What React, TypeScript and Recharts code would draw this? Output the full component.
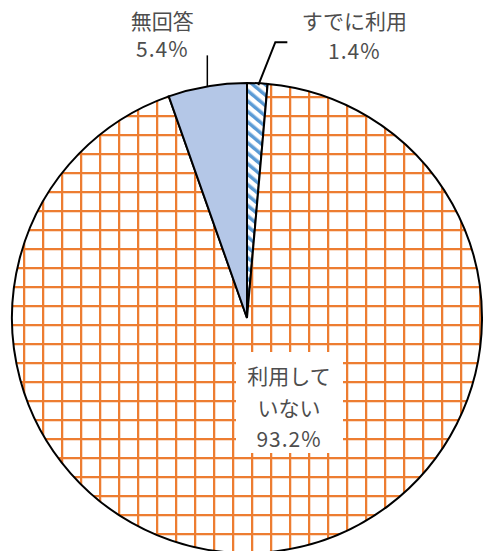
import { PieChart, Pie, Cell } from "recharts";

const categories = ["すでに利用", "利用していない", "無回答"];
const shares = [1.4, 93.2, 5.4];
const valueLabels = ["1.4%", "93.2%", "5.4%"];

const data = categories.map((name, i) => ({ name, value: shares[i] }));

const fills = ["url(#hatchBlue)", "url(#gridOrange)", "#B4C7E7"];
const RAD = Math.PI / 180;
const textColor = "#4d4d4d";
const fontFamily = "'Noto Sans CJK JP', 'Noto Sans', sans-serif";
const fs = 21;

const renderLabel = (props: any) => {
  const { cx, cy, midAngle, outerRadius, index } = props;
  const ox = cx + outerRadius * Math.cos(-midAngle * RAD);
  const oy = cy + outerRadius * Math.sin(-midAngle * RAD);

  if (index === 0) {
    const ex = ox + 18;
    const ey = oy - 41;
    return (
      <g>
        <polyline
          points={`${ox + 1},${oy + 2} ${ex},${ey} ${ex + 12},${ey}`}
          fill="none"
          stroke="#000"
          strokeWidth={2}
        />
        <text x={ex + 79} y={ey - 22} textAnchor="middle" dominantBaseline="central" fill={textColor} fontSize={fs} fontFamily={fontFamily}>
          {categories[0]}
        </text>
        <text x={ex + 79} y={ey + 8} textAnchor="middle" dominantBaseline="central" fill={textColor} fontSize={fs} fontFamily={fontFamily} letterSpacing={1}>
          {valueLabels[0]}
        </text>
      </g>
    );
  }
  if (index === 2) {
    return (
      <g>
        <line x1={ox} y1={oy} x2={ox} y2={oy - 31} stroke="#000" strokeWidth={1.5} />
        <text x={ox - 45} y={oy - 66} textAnchor="middle" dominantBaseline="central" fill={textColor} fontSize={fs} fontFamily={fontFamily}>
          {categories[2]}
        </text>
        <text x={ox - 45} y={oy - 38} textAnchor="middle" dominantBaseline="central" fill={textColor} fontSize={fs} fontFamily={fontFamily} letterSpacing={1}>
          {valueLabels[2]}
        </text>
      </g>
    );
  }
  const tx = cx + 42;
  return (
    <g>
      <rect x={tx - 53} y={cy + 34} width={107} height={101} fill="#fff" />
      <text x={tx} y={cy + 57} textAnchor="middle" dominantBaseline="central" fill={textColor} fontSize={fs} fontFamily={fontFamily}>
        利用して
      </text>
      <text x={tx} y={cy + 89} textAnchor="middle" dominantBaseline="central" fill={textColor} fontSize={fs} fontFamily={fontFamily}>
        いない
      </text>
      <text x={tx} y={cy + 120} textAnchor="middle" dominantBaseline="central" fill={textColor} fontSize={fs} fontFamily={fontFamily} letterSpacing={1}>
        {valueLabels[1]}
      </text>
    </g>
  );
};

export default function App() {
  return (
    <div style={{ position: "absolute", left: 0, top: 0, background: "#fff" }}>
      <PieChart width={484} height={551} margin={{ top: 0, right: 0, bottom: 0, left: 0 }}>
        <defs>
          <pattern id="gridOrange" patternUnits="userSpaceOnUse" width={19} height={19} x={4} y={1}>
            <rect width={19} height={19} fill="#fff" />
            <rect x={-0.5} y={0} width={3} height={19} fill="#F6B98F" />
            <rect x={0} y={-0.5} width={19} height={3} fill="#F6B98F" />
            <rect x={0} y={0} width={2} height={19} fill="#ED7D31" />
            <rect x={0} y={0} width={19} height={2} fill="#ED7D31" />
          </pattern>
          <pattern id="hatchBlue" patternUnits="userSpaceOnUse" width={8} height={8} patternTransform="rotate(-50)">
            <rect width={8} height={8} fill="#fff" />
            <rect x={0} y={0} width={3.5} height={8} fill="#5B9BD5" />
          </pattern>
        </defs>
        <Pie
          data={data}
          dataKey="value"
          nameKey="name"
          cx={247}
          cy={318}
          outerRadius={235}
          startAngle={90}
          endAngle={-270}
          stroke="#000"
          strokeWidth={2}
          label={renderLabel}
          labelLine={false}
          isAnimationActive={false}
        >
          {data.map((d, i) => (
            <Cell key={d.name} fill={fills[i]} />
          ))}
        </Pie>
      </PieChart>
    </div>
  );
}
